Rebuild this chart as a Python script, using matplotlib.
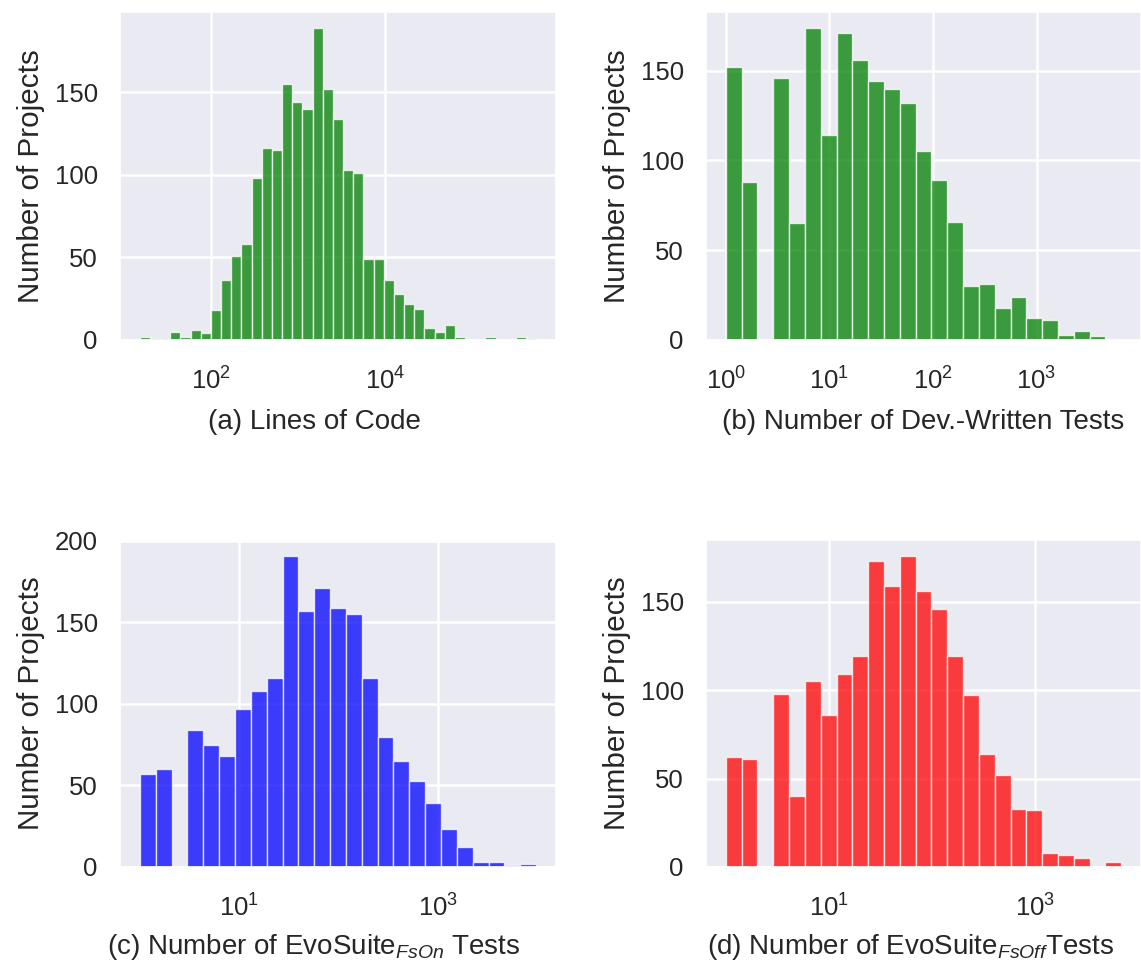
import numpy as np
import matplotlib
matplotlib.use("Agg")
import matplotlib.pyplot as plt
import seaborn as sns

# bin counts, bins equally spaced in log10 space
loc_counts = [2, 1, 1, 5, 2, 6, 4, 18, 36, 51, 58, 98, 116, 115, 155, 144, 140,
              189, 152, 134, 103, 101, 49, 49, 36, 28, 22, 19, 7, 5, 9, 2, 0, 0,
              2, 0, 0, 2, 1]
loc_log_range = (1.19, 5.727)

dev_counts = [152, 88, 0, 146, 65, 174, 114, 171, 156, 144, 140, 132, 105, 89,
              66, 30, 31, 18, 24, 12, 11, 3, 5, 2, 0]
dev_log_range = (0.0, 3.818)

fson_counts = [57, 60, 0, 84, 75, 68, 97, 108, 116, 191, 157, 171, 159, 155, 116,
               80, 65, 53, 39, 23, 12, 3, 3, 1, 2]
fson_log_range = (0.0, 3.982)

fsoff_counts = [62, 61, 0, 98, 40, 105, 86, 109, 119, 173, 159, 176, 156, 146,
                119, 97, 64, 52, 33, 32, 8, 7, 5, 0, 3]
fsoff_log_range = (0.0, 3.837)

# (counts, log range, colour, x label, x ticks, x label centre)
panels = [
    (loc_counts, loc_log_range, "green", "(a) Lines of Code", [1e2, 1e4], 0.447),
    (dev_counts, dev_log_range, "green", "(b) Number of Dev.-Written Tests", [1e0, 1e1, 1e2, 1e3], 0.5),
    (fson_counts, fson_log_range, "blue", "(c) Number of EvoSuite$_{FsOn}$ Tests", [1e1, 1e3], 0.445),
    (fsoff_counts, fsoff_log_range, "red", "(d) Number of EvoSuite$_{FsOff}$Tests", [1e1, 1e3], 0.471),
]

sns.set_theme(style="darkgrid")
plt.rcParams["font.family"] = ["Liberation Sans", "DejaVu Sans"]
plt.rcParams["mathtext.fontset"] = "custom"
plt.rcParams["mathtext.rm"] = "Liberation Sans"
plt.rcParams["mathtext.it"] = "Liberation Sans:italic"
plt.rcParams["mathtext.bf"] = "Liberation Sans:bold"

fig = plt.figure(figsize=(11.41, 9.65), dpi=100)

W, H = 1141, 965
boxes = [(120, 12, 556, 340), (706, 12, 1141, 340),
         (120, 540, 556, 867), (706, 540, 1141, 867)]

for i, ((counts, (lo, hi), color, label, ticks, lx), (x0, y0, x1, y1)) in enumerate(zip(panels, boxes)):
    ax = fig.add_axes([x0 / W, 1 - y1 / H, (x1 - x0) / W, (y1 - y0) / H])
    ax.set_xscale("log")
    edges = np.logspace(lo, hi, len(counts) + 1)
    centers = np.sqrt(edges[:-1] * edges[1:])
    ax.hist(centers, bins=edges, weights=counts, color=color, alpha=0.75,
            edgecolor="white", linewidth=1)
    ax.set_xticks(ticks)
    ax.xaxis.set_minor_locator(matplotlib.ticker.NullLocator())
    ax.grid(True, which="major", color="white", linewidth=1.8)
    ax.set_xlabel(label, fontsize=20, color=".15", labelpad=10 if i < 2 else 7)
    ax.xaxis.label.set_x(lx)
    ax.set_ylabel("Number of Projects", fontsize=21.3, color=".15", labelpad=7)
    ax.tick_params(axis="x", labelsize=18.5, colors=".15", size=0, pad=20)
    ax.tick_params(axis="y", labelsize=18.5, colors=".15", size=0, pad=16)

fig.savefig("out.png", dpi=100)
